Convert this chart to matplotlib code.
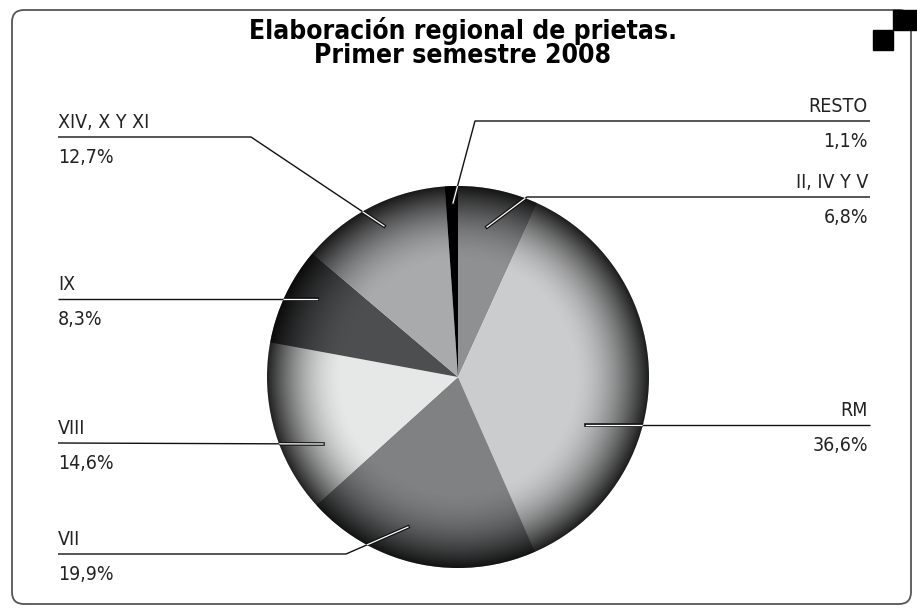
import numpy as np
import matplotlib
matplotlib.use('Agg')
import matplotlib.pyplot as plt
from matplotlib.patches import Circle, FancyBboxPatch, Rectangle
import matplotlib.patheffects as pe

plt.rcParams['font.family'] = ['DejaVu Sans']
plt.rcParams['font.stretch'] = 'condensed'

# ---- data ----
regions = ['II, IV Y V', 'RM', 'VII', 'VIII', 'IX', 'XIV, X Y XI', 'RESTO']
shares = [6.8, 36.6, 19.9, 14.6, 8.3, 12.7, 1.1]
share_labels = ['6,8%', '36,6%', '19,9%', '14,6%', '8,3%', '12,7%', '1,1%']
colors = ['#8f9092', '#cbcccd', '#808183', '#e6e7e7', '#4d4e50', '#a9aaac', '#000000']
title_lines = ['Elaboración regional de prietas.', 'Primer semestre 2008']

# ---- layout (pixel coordinates, y from top) ----
label_side = ['right', 'right', 'left', 'left', 'left', 'left', 'right']
label_line_y = [197, 425, 554, 443, 299, 137, 121]
leader_inner = [(487, 227), (586, 425), (408, 527), (323, 444), (317, 299), (384, 226), (453, 203)]
leader_outer = [(527, 197), (586, 425), (346, 554), (323, 444), (317, 299), (251, 137), (475, 121)]

W, H = 917, 608
fig = plt.figure(figsize=(W / 100, H / 100), dpi=100)
ax = fig.add_axes([0, 0, 1, 1])


def Y(p):
    return H - p


cx, cy, R = 458, Y(377), 191
wedges, _ = ax.pie(shares, colors=colors, startangle=90, counterclock=False,
                   center=(cx, cy), radius=R, frame=True,
                   wedgeprops=dict(linewidth=0))
for w in wedges:
    w.set_zorder(2)

# radial shading (darker toward the rim)
n = 700
yy, xx = np.mgrid[-1:1:n * 1j, -1:1:n * 1j]
r = np.sqrt(xx ** 2 + yy ** 2)
alpha = np.clip((r - 0.60) / 0.40, 0, 1) ** 1.8 * 0.86
img = np.zeros((n, n, 4))
img[..., 3] = alpha
im = ax.imshow(img, extent=[cx - R, cx + R, cy - R, cy + R], origin='lower',
               interpolation='bilinear', zorder=3)
im.set_clip_path(Circle((cx, cy), R, transform=ax.transData))

# labels with leader lines
for name, pct, side, ly, inner, outer in zip(regions, share_labels, label_side,
                                            label_line_y, leader_inner, leader_outer):
    if side == 'right':
        pts = [inner, outer, (870, ly)]
        tx, ha = 868, 'right'
    else:
        pts = [inner, outer, (58, ly)]
        tx, ha = 58, 'left'
    xs = [p[0] for p in pts]
    ys = [Y(p[1]) for p in pts]
    ax.plot(xs, ys, color='#111111', lw=1.0, zorder=4, solid_capstyle='butt')
    ln, = ax.plot(xs, ys, color='white', lw=0.9, zorder=5,
                  path_effects=[pe.Stroke(linewidth=2.6, foreground='#111111'), pe.Normal()])
    ln.set_clip_path(Circle((cx, cy), R, transform=ax.transData))
    ax.text(tx, Y(ly - 9), name, ha=ha, va='baseline', fontsize=14, color='#222222',
            fontstretch='condensed')
    ax.text(tx, Y(ly + 26), pct, ha=ha, va='baseline', fontsize=14, color='#222222',
            fontstretch='condensed')

# title
for i, line in enumerate(title_lines):
    ax.text(463, Y(39 + 24 * i), line, ha='center', va='baseline', fontsize=19,
            fontweight='bold', fontstretch='condensed', color='black')

# frame and corner squares
ax.add_patch(FancyBboxPatch((12, Y(604)), 899, 594,
                            boxstyle='round,pad=0,rounding_size=12',
                            fc='none', ec='#555555', lw=1.3, zorder=1))
ax.add_patch(Rectangle((893, Y(30)), 24, 20, color='black', zorder=6))
ax.add_patch(Rectangle((873, Y(50)), 20, 20, color='black', zorder=6))

ax.set_xlim(0, W)
ax.set_ylim(0, H)
ax.set_aspect('auto')
ax.axis('off')
fig.savefig('out.png', dpi=100, facecolor='white')
